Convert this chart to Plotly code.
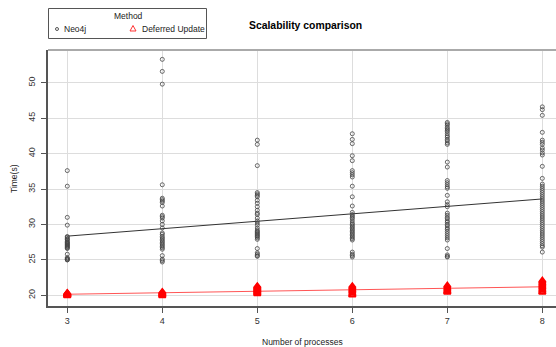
import plotly.graph_objects as go

processes = [3, 4, 5, 6, 7, 8]

neo4j_3 = [37.6, 35.4, 31.0, 29.9, 28.3, 28.2, 28.0, 27.9, 27.8, 27.6, 27.5, 27.4, 27.3, 27.2,
           27.1, 27.0, 26.9, 26.8, 26.7, 26.6, 25.8, 25.3, 25.2, 25.1, 25.0, 25.0]
neo4j_4 = [53.3, 51.6, 49.8, 35.6, 33.7, 33.5, 33.3, 33.1, 32.6, 31.3, 31.1, 30.9, 30.5, 30.0,
           29.5, 28.8, 28.6, 28.3, 28.1, 27.9, 27.7, 27.5, 27.3, 27.1, 26.9, 26.7, 26.5, 25.6,
           25.1, 24.9, 24.7]
neo4j_5 = [41.9, 41.3, 38.3, 34.5, 34.3, 34.1, 33.9, 33.4, 33.0, 32.5, 32.0, 31.6, 31.4, 30.9,
           30.5, 30.2, 29.9, 29.5, 29.2, 29.0, 28.9, 28.7, 28.6, 28.4, 28.3, 28.1, 27.9, 26.6,
           26.0, 25.8, 25.6, 25.5]
neo4j_6 = [42.8, 42.0, 41.4, 39.7, 39.0, 37.6, 37.3, 37.0, 36.7, 35.4, 33.9, 32.6, 31.7, 31.4,
           31.2, 31.0, 30.8, 30.5, 30.2, 30.0, 29.8, 29.6, 29.4, 29.2, 29.0, 28.8, 28.6, 28.4,
           28.2, 28.0, 27.8, 26.1, 25.8, 25.6, 25.4]
neo4j_7 = [44.4, 44.2, 44.0, 43.7, 43.5, 43.3, 43.1, 42.8, 42.5, 42.3, 42.0, 41.8, 41.5, 41.3,
           38.8, 38.1, 36.2, 35.9, 35.6, 35.3, 35.1, 34.1, 33.2, 32.8, 32.5, 31.6, 31.3, 31.0,
           30.8, 30.5, 30.3, 30.0, 29.8, 29.5, 29.3, 29.0, 28.7, 28.4, 28.1, 27.8, 26.6, 25.7,
           25.5, 25.4]
neo4j_8 = [46.6, 46.2, 45.4, 43.0, 41.9, 41.6, 41.3, 40.8, 40.5, 40.1, 39.8, 38.2, 36.5, 35.7,
           35.4, 35.1, 34.8, 34.5, 34.2, 33.9, 33.6, 33.3, 33.0, 32.7, 32.4, 32.1, 31.8, 31.5,
           31.2, 30.9, 30.6, 30.3, 30.0, 29.7, 29.4, 29.1, 28.8, 28.5, 28.2, 27.9, 27.6, 27.3,
           27.0, 26.8, 26.1]

deferred_3 = [20.35, 20.3, 20.25, 20.2, 20.15, 20.1, 20.05, 20.0, 19.95, 19.9]
deferred_4 = [20.5, 20.4, 20.3, 20.2, 20.1, 20.0, 19.9]
deferred_5 = [21.3, 21.2, 21.1, 21.0, 20.9, 20.8, 20.7, 20.6, 20.5, 20.4, 20.3, 20.2]
deferred_6 = [21.3, 21.1, 20.9, 20.7, 20.5, 20.3, 20.1, 20.0]
deferred_7 = [21.4, 21.2, 21.0, 20.8, 20.6, 20.5, 20.4]
deferred_8 = [22.1, 21.9, 21.7, 21.5, 21.3, 21.1, 20.9, 20.7, 20.5, 20.4]

fit_x = [3, 8]
neo4j_fit = [28.35, 33.6]
deferred_fit = [20.15, 21.2]

y_ticks = [20, 25, 30, 35, 40, 45, 50]

neo4j_groups = [neo4j_3, neo4j_4, neo4j_5, neo4j_6, neo4j_7, neo4j_8]
deferred_groups = [deferred_3, deferred_4, deferred_5, deferred_6, deferred_7, deferred_8]

nx, ny = [], []
for p, g in zip(processes, neo4j_groups):
    nx += [p] * len(g)
    ny += g
dx, dy = [], []
for p, g in zip(processes, deferred_groups):
    dx += [p] * len(g)
    dy += g

FONT = "Liberation Sans, Arial, sans-serif"
W, H = 556, 347
L, R, T, B = 48, 0, 50, 41
PW, PH = W - L - R, H - T - B


def px(xp):
    return (xp - L) / PW


def py(yp):
    return 1 - (yp - T) / PH


fig = go.Figure()
fig.add_trace(go.Scatter(x=fit_x, y=neo4j_fit, mode="lines",
                         line=dict(color="#333333", width=1), showlegend=False, hoverinfo="skip"))
fig.add_trace(go.Scatter(x=fit_x, y=deferred_fit, mode="lines",
                         line=dict(color="#ff5555", width=1), showlegend=False, hoverinfo="skip"))
fig.add_trace(go.Scatter(x=nx, y=ny, mode="markers", name="Neo4j",
                         marker=dict(symbol="circle-open", size=4, color="#444444",
                                     line=dict(width=0.8, color="#444444")),
                         showlegend=False))
fig.add_trace(go.Scatter(x=dx, y=dy, mode="markers", name="Deferred Update",
                         marker=dict(symbol="triangle-up-open", size=6, color="#ff0000",
                                     line=dict(width=1.6, color="#ff0000")),
                         showlegend=False))

shapes = [
    # top border
    dict(type="line", xref="paper", yref="paper", x0=0, x1=1, y0=1, y1=1,
         line=dict(color="#aaaaaa", width=2)),
    # legend box
    dict(type="rect", xref="paper", yref="paper", x0=px(48.5), x1=px(206.5),
         y0=py(8.5), y1=py(38.5), line=dict(color="#555555", width=1)),
    # legend circle
    dict(type="circle", xref="paper", yref="paper", x0=px(55.5), x1=px(58.5),
         y0=py(27.5), y1=py(30.5), line=dict(color="#444444", width=0.9)),
    # legend triangle
    dict(type="path", xref="paper", yref="paper",
         path="M {:.5f},{:.5f} L {:.5f},{:.5f} L {:.5f},{:.5f} Z".format(
             px(133), py(25.5), px(130), py(31), px(136), py(31)),
         line=dict(color="#ff3333", width=1)),
]

annotations = [
    dict(text="<b>Scalability comparison</b>", xref="paper", yref="paper",
         x=px(305), y=py(25), xanchor="center", yanchor="middle", showarrow=False,
         font=dict(size=10.4, color="#000000", family=FONT)),
    dict(text="Method", xref="paper", yref="paper", x=px(128), y=py(16),
         xanchor="center", yanchor="middle", showarrow=False,
         font=dict(size=8.5, color="#222222", family=FONT)),
    dict(text="Neo4j", xref="paper", yref="paper", x=px(62), y=py(29), xanchor="left",
         yanchor="middle", showarrow=False, font=dict(size=8.5, color="#222222", family=FONT)),
    dict(text="Deferred Update", xref="paper", yref="paper", x=px(140), y=py(29),
         xanchor="left", yanchor="middle", showarrow=False,
         font=dict(size=8.5, color="#222222", family=FONT)),
    dict(text="Number of processes", xref="paper", yref="paper", x=px(302), y=py(342),
         xanchor="center", yanchor="middle", showarrow=False,
         font=dict(size=8.5, color="#222222", family=FONT)),
    dict(text="Time(s)", xref="paper", yref="paper", x=px(14), y=py(179), textangle=-90,
         xanchor="center", yanchor="middle", showarrow=False,
         font=dict(size=8.5, color="#222222", family=FONT)),
]

fig.update_layout(
    width=W, height=H,
    margin=dict(l=L, r=R, t=T, b=B, pad=0, autoexpand=False),
    paper_bgcolor="white", plot_bgcolor="white",
    showlegend=False,
    shapes=shapes, annotations=annotations,
    font=dict(family=FONT, size=9, color="#333333"),
)
fig.update_xaxes(range=[2.797, 8.144], tickmode="array", tickvals=processes,
                 ticktext=[str(p) for p in processes], automargin=False,
                 showgrid=True, gridcolor="#dddddd", gridwidth=1,
                 showline=True, linecolor="#555555", linewidth=1.5,
                 ticks="outside", ticklen=5, tickcolor="#555555",
                 tickfont=dict(size=9, color="#333333"), zeroline=False)
fig.update_yaxes(range=[18.49, 54.62], tickmode="array", tickvals=y_ticks,
                 ticktext=[str(v) for v in y_ticks], tickangle=-90, automargin=False,
                 ticklabelstandoff=3,
                 showgrid=True, gridcolor="#dddddd", gridwidth=1,
                 showline=True, linecolor="#555555", linewidth=1.5,
                 ticks="outside", ticklen=5, tickcolor="#555555",
                 tickfont=dict(size=9, color="#333333"), zeroline=False)

fig.write_html("out.html", config={"displayModeBar": False},
               post_script="document.body.style.margin='0';document.body.style.overflow='hidden';")
